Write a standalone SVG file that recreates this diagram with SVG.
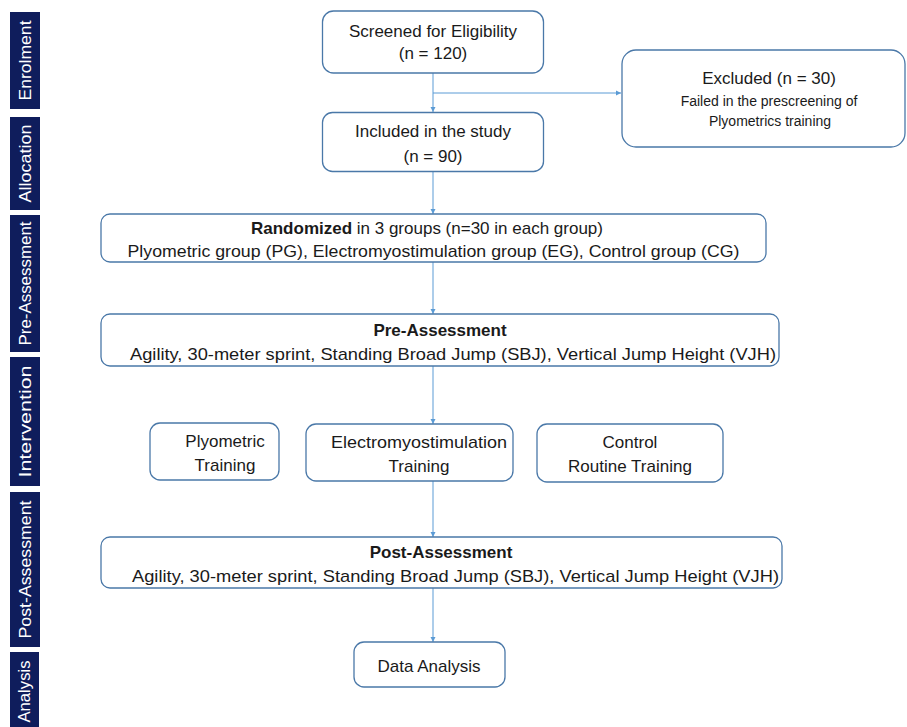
<svg xmlns="http://www.w3.org/2000/svg" width="907" height="727" viewBox="0 0 907 727">
<style>
.bar{fill:#0f1d5c}
.bl{font-family:"Liberation Sans",Arial,sans-serif;font-size:17px;fill:#ffffff;text-anchor:middle}
.box{fill:#ffffff;stroke:#4a78a8;stroke-width:1.3}
.t{font-family:"Liberation Sans",Arial,sans-serif;font-size:17px;fill:#1a1a1a;text-anchor:middle}
.s{font-family:"Liberation Sans",Arial,sans-serif;font-size:14px;fill:#1a1a1a;text-anchor:middle}
.b{font-weight:bold}
.c{stroke:#5b9bd5;stroke-width:1;fill:none;marker-end:url(#ah)}
</style>
<defs>
<marker id="ah" markerWidth="6" markerHeight="6" refX="5" refY="3" orient="auto" markerUnits="userSpaceOnUse">
<path d="M0,0.5 L5,3 L0,5.5 Z" fill="#5b9bd5"/>
</marker>
</defs>
<rect width="907" height="727" fill="#ffffff"/>
<g id="stages">
<rect class="bar" x="10" y="12" width="30" height="97"/>
<text class="bl" transform="translate(31,60.5) rotate(-90)" textLength="80" lengthAdjust="spacingAndGlyphs">Enrolment</text>
<rect class="bar" x="10" y="117" width="30" height="93"/>
<text class="bl" transform="translate(31,163.5) rotate(-90)" textLength="78" lengthAdjust="spacingAndGlyphs">Allocation</text>
<rect class="bar" x="10" y="215" width="30" height="137"/>
<text class="bl" transform="translate(31,283.5) rotate(-90)" textLength="124" lengthAdjust="spacingAndGlyphs">Pre-Assessment</text>
<rect class="bar" x="10" y="357" width="30" height="129"/>
<text class="bl" transform="translate(31,421.5) rotate(-90)" textLength="112" lengthAdjust="spacingAndGlyphs">Intervention</text>
<rect class="bar" x="10" y="492" width="30" height="155"/>
<text class="bl" transform="translate(31,569.5) rotate(-90)" textLength="138" lengthAdjust="spacingAndGlyphs">Post-Assessment</text>
<rect class="bar" x="10" y="652" width="29" height="75"/>
<text class="bl" transform="translate(30,691.5) rotate(-90)" textLength="62" lengthAdjust="spacingAndGlyphs">Analysis</text>
</g>
<g id="connectors">
<line class="c" x1="433" y1="73" x2="433" y2="112"/>
<line class="c" x1="433" y1="93" x2="621" y2="93"/>
<line class="c" x1="433" y1="172" x2="433" y2="214"/>
<line class="c" x1="433" y1="262" x2="433" y2="314"/>
<line class="c" x1="433" y1="366" x2="433" y2="424"/>
<line class="c" x1="433" y1="481" x2="433" y2="537"/>
<line class="c" x1="433" y1="588" x2="433" y2="642"/>
</g>
<g id="screened">
<rect class="box" x="322.5" y="11" width="221" height="62" rx="11"/>
<text class="t" x="433" y="37">Screened for Eligibility</text>
<text class="t" x="433" y="59">(n = 120)</text>
</g>
<g id="excluded">
<rect class="box" x="622" y="50" width="283" height="97" rx="14"/>
<text class="t" x="769" y="84">Excluded (n = 30)</text>
<text class="s" x="769" y="106">Failed in the prescreening of</text>
<text class="s" x="770" y="126">Plyometrics training</text>
</g>
<g id="included">
<rect class="box" x="322.5" y="112.5" width="221" height="59" rx="10"/>
<text class="t" x="433" y="137">Included in the study</text>
<text class="t" x="433" y="162">(n = 90)</text>
</g>
<g id="randomized">
<rect class="box" x="101" y="214" width="665" height="48" rx="9"/>
<text class="t" x="427" y="234"><tspan class="b">Randomized</tspan> in 3 groups (n=30 in each group)</text>
<text class="t" x="433.5" y="257" textLength="612" lengthAdjust="spacingAndGlyphs">Plyometric group (PG), Electromyostimulation group (EG), Control group (CG)</text>
</g>
<g id="pre">
<rect class="box" x="101" y="314" width="678" height="52" rx="9"/>
<text class="t b" x="440" y="336">Pre-Assessment</text>
<text class="t" x="453" y="360" textLength="646" lengthAdjust="spacingAndGlyphs">Agility, 30-meter sprint, Standing Broad Jump (SBJ), Vertical Jump Height (VJH)</text>
</g>
<g id="plyo">
<rect class="box" x="150" y="423" width="129" height="57" rx="10"/>
<text class="t" x="225" y="447">Plyometric</text>
<text class="t" x="225" y="471">Training</text>
</g>
<g id="ems">
<rect class="box" x="306" y="424" width="207" height="57" rx="10"/>
<text class="t" x="419" y="448" textLength="176" lengthAdjust="spacingAndGlyphs">Electromyostimulation</text>
<text class="t" x="419" y="472">Training</text>
</g>
<g id="control">
<rect class="box" x="537" y="424" width="186" height="58" rx="10"/>
<text class="t" x="630" y="448">Control</text>
<text class="t" x="630" y="472">Routine Training</text>
</g>
<g id="post">
<rect class="box" x="101" y="537" width="681" height="51" rx="9"/>
<text class="t b" x="441" y="558">Post-Assessment</text>
<text class="t" x="455.5" y="582" textLength="647" lengthAdjust="spacingAndGlyphs">Agility, 30-meter sprint, Standing Broad Jump (SBJ), Vertical Jump Height (VJH)</text>
</g>
<g id="analysis">
<rect class="box" x="354" y="642" width="151" height="45" rx="10"/>
<text class="t" x="429" y="672">Data Analysis</text>
</g>
</svg>
